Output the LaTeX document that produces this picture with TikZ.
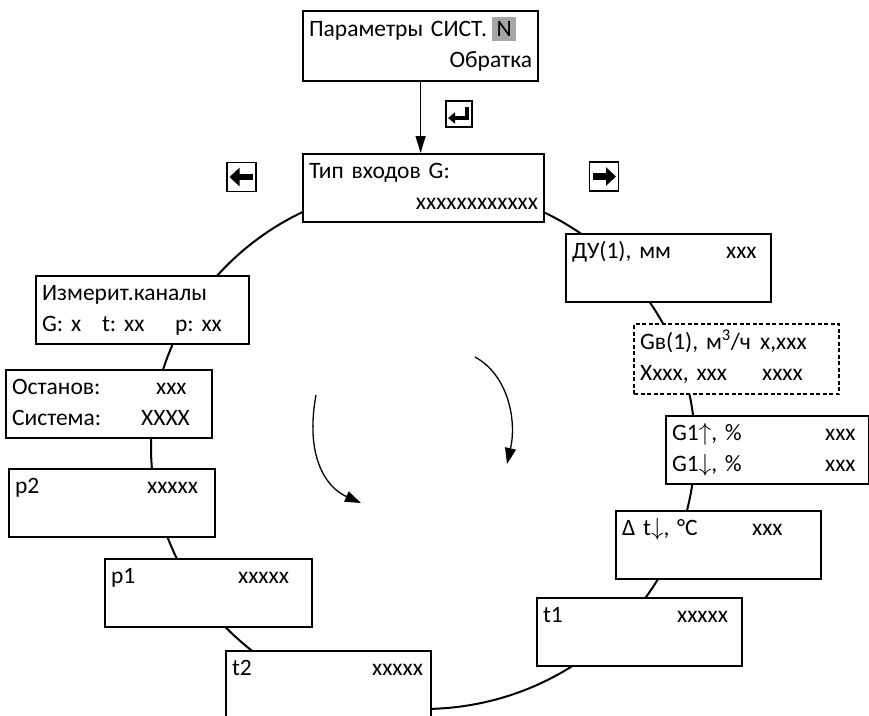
\documentclass[tikz,border=0pt]{standalone}
\usepackage{fontspec}
\setmainfont{Carlito}
\usetikzlibrary{arrows.meta}
\frenchspacing

\begin{document}
\begin{tikzpicture}[x=1pt,y=-1pt,font=\fontsize{23.5}{31}\selectfont,
  screen/.style={draw,line width=2.2pt,fill=white,anchor=north west,
    text width=#1,minimum height=68pt,inner xsep=6pt,inner ysep=0pt,align=left},
  screen/.default=193pt,
  keybox/.style={draw,line width=1.6pt,fill=white,minimum size=29pt,inner sep=0pt},
  keyarrow/.style={line width=6.5pt,-{Triangle[length=10pt,width=18pt]}}]
  \useasboundingbox (0,0) rectangle (869,715);
  \clip (0,0) rectangle (869,715);
  \def\up{$\uparrow$}
  \def\dn{$\downarrow$}

  % ================= menu ring (behind the screens) =================
  \draw[line width=2pt] (423,447) ellipse [x radius=272,y radius=262];

  % ================= entry screen =================
  \node[screen=223pt,minimum height=70pt] (param) at (302,10)
    {\strut\makebox[183pt][l]{Параметры СИСТ.}{\setlength{\fboxsep}{4.5pt}\colorbox{gray!70}{N}}\\
     \strut\hfill Обратка};
  \node[screen=229pt] (inputs) at (302,153)
    {\strut Тип входов G:\\\strut\hfill xxxxxxxxxxxx};
  \draw[line width=1.3pt,-{Triangle[length=17pt,width=10pt]}]
    (param.south) -- (param.south |- inputs.north);

  % keys
  \node[keybox,minimum size=26pt] (keyenter) at (459,114) {};
  \draw[line width=3.5pt,-{Triangle[length=7pt,width=11pt]}]
    ([shift={(8,-7)}]keyenter.center) -- ([shift={(8,4)}]keyenter.center)
    -- ([shift={(-11,4)}]keyenter.center);
  \node[keybox] (keyleft) at (241.5,177) {};
  \draw[keyarrow] ([shift={(11,0)}]keyleft.center) -- ([shift={(-12,0)}]keyleft.center);
  \node[keybox] (keyright) at (604,176.5) {};
  \draw[keyarrow] ([shift={(-11,0)}]keyright.center) -- ([shift={(12,0)}]keyright.center);

  % ================= right half (clockwise) =================
  \node[screen] (du) at (565,233)
    {\strut\makebox[154pt][l]{ДУ(1), мм}xxx\\\strut};
  \node[screen,minimum height=70pt,dash pattern=on 4pt off 2.5pt] (gv) at (633,323)
    {\strut\makebox[120pt][l]{Gв(1), м\textsuperscript{3}/ч}x,xxx\\
     \strut\makebox[122pt][l]{Xxxx, xxx}xxxx};
  \node[screen=191pt] (gone) at (665,415)
    {\strut\makebox[153pt][l]{G1\up, \%}xxx\\\strut\makebox[153pt][l]{G1\dn, \%}xxx};
  \node[screen] (dt) at (615,510)
    {\strut\makebox[130pt][l]{Δ t\dn, °C}xxx\\\strut};
  \node[screen] (tone) at (536,597)
    {\strut\makebox[134pt][l]{t1}xxxxx\\\strut};

  % ================= left half =================
  \node[screen] (ttwo) at (225,650)
    {\strut\makebox[140pt][l]{t2}xxxxx\\\strut};
  \node[screen=195pt] (pone) at (104,558)
    {\strut\makebox[127pt][l]{p1}xxxxx\\\strut};
  \node[screen=194pt] (ptwo) at (8,468)
    {\strut\makebox[132pt][l]{p2}xxxxx\\\strut};
  \node[screen=194pt] (stop) at (5,369)
    {\strut\makebox[144pt][l]{Останов:}xxx\\\strut\makebox[129pt][l]{Система:}XXXX};
  \node[screen=201pt] (meas) at (35,275)
    {\strut Измерит.каналы\\\strut\makebox[60pt][l]{G: x}\makebox[73pt][l]{t: xx}p: xx};

  % direction of scrolling
  \draw[line width=1.3pt,-{Triangle[length=16pt,width=11pt]}]
    (316,395) .. controls (305,455) and (325,487) .. (361,503);
  \draw[line width=1.3pt,-{Triangle[length=16pt,width=11pt]}]
    (475,357) .. controls (508,375) and (517,420) .. (507,464);
\end{tikzpicture}
\end{document}
